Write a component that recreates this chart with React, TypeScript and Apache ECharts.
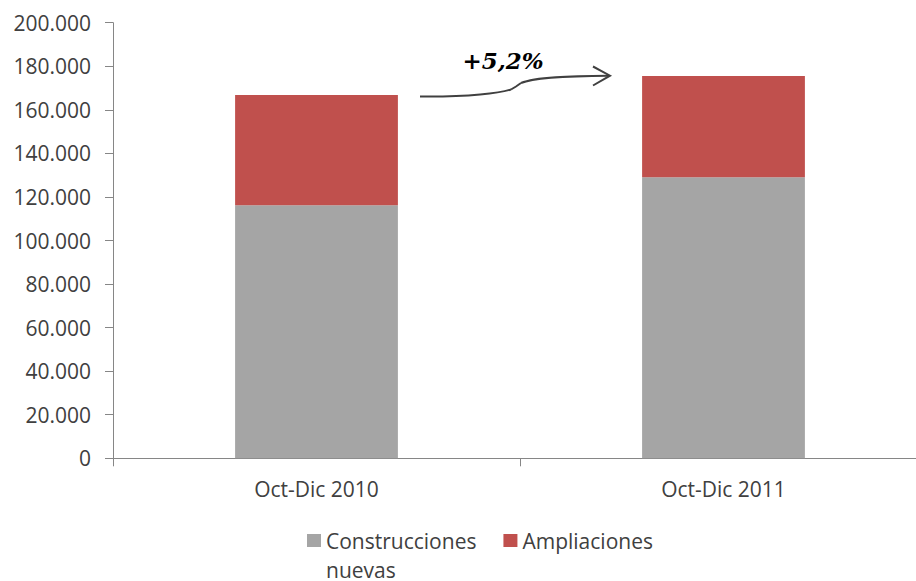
import React, { useEffect, useRef } from "react";
import * as echarts from "echarts";

const categories = ["Oct-Dic 2010", "Oct-Dic 2011"];
const construccionesNuevas = [116200, 129000];
const ampliaciones = [50600, 46500];
const seriesNames = ["Construcciones nuevas", "Ampliaciones"];
const yTicks = { min: 0, max: 200000, interval: 20000 };
const growthLabel = "+5,2%";

const fmt = (v: number) => String(v).replace(/\B(?=(\d{3})+(?!\d))/g, ".");

export default function App() {
  const ref = useRef<HTMLDivElement>(null);
  useEffect(() => {
    if (!ref.current) return;
    const chart = echarts.init(ref.current, null, { renderer: "svg" });
    const font = "'Open Sans', sans-serif";
    const lineColor = "#404040";
    chart.setOption({
      animation: false,
      grid: { left: 113, right: -11, top: 22.7, bottom: 122.7, containLabel: false, outerBoundsMode: "none" },
      xAxis: {
        type: "category",
        data: categories,
        boundaryGap: true,
        axisLine: { lineStyle: { color: "#868686", width: 1 } },
        axisTick: { show: true, length: 8, lineStyle: { color: "#868686" } },
        axisLabel: { color: "#404040", fontFamily: font, fontSize: 21, margin: 20 },
      },
      yAxis: {
        type: "value",
        min: yTicks.min,
        max: yTicks.max,
        interval: yTicks.interval,
        splitLine: { show: false },
        axisLine: { show: true, lineStyle: { color: "#868686", width: 1 } },
        axisTick: { show: true, length: 8, lineStyle: { color: "#868686" } },
        axisLabel: { color: "#404040", fontFamily: font, fontSize: 21, margin: 22, formatter: (v: number) => fmt(v) },
      },
      legend: {
        left: 302,
        top: 492,
        itemWidth: 14,
        itemHeight: 13,
        itemGap: 27,
        icon: "rect",
        textStyle: { color: "#404040", fontFamily: font, fontSize: 21, lineHeight: 29 },
        formatter: (name: string) => (name === seriesNames[0] ? "\nConstrucciones\nnuevas" : name),
        data: [seriesNames[0], seriesNames[1]],
      },
      series: [
        {
          name: seriesNames[0],
          type: "bar",
          stack: "total",
          barWidth: "40%",
          itemStyle: { color: "#A5A5A5" },
          data: construccionesNuevas,
        },
        {
          name: seriesNames[1],
          type: "bar",
          stack: "total",
          barWidth: "40%",
          itemStyle: { color: "#C0504D" },
          data: ampliaciones,
        },
      ],
      graphic: [
        {
          type: "bezierCurve",
          shape: { x1: 420, y1: 96.5, x2: 511, y2: 89.5, cpx1: 470, cpy1: 97, cpx2: 500, cpy2: 93 },
          style: { stroke: lineColor, lineWidth: 2, fill: null },
        },
        {
          type: "polyline",
          shape: { points: [[511, 89.5], [516, 86.5], [521, 83]] },
          style: { stroke: lineColor, lineWidth: 2, fill: null },
        },
        {
          type: "bezierCurve",
          shape: { x1: 521, y1: 83, x2: 609, y2: 75.7, cpx1: 535, cpy1: 77, cpx2: 570, cpy2: 76 },
          style: { stroke: lineColor, lineWidth: 2, fill: null },
        },
        {
          type: "polyline",
          shape: { points: [[593, 66.5], [610, 75.7], [593, 85.5]] },
          style: { stroke: lineColor, lineWidth: 2, fill: null },
        },
        {
          type: "text",
          x: 503,
          y: 60,
          style: {
            text: growthLabel,
            fill: "#000",
            font: "italic bold 23px 'DejaVu Serif', serif",
            align: "center",
            verticalAlign: "middle",
          },
        },
      ],
    });
    return () => chart.dispose();
  }, []);
  return (
    <div
      ref={ref}
      style={{ position: "fixed", left: 0, top: 0, width: 916, height: 581, background: "#fff" }}
    />
  );
}
